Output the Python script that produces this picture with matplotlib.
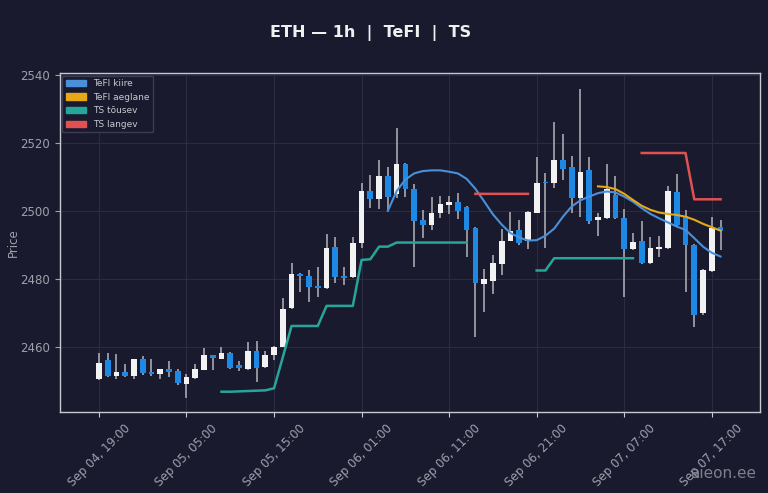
import matplotlib
matplotlib.use("Agg")
import matplotlib.pyplot as plt
import matplotlib.dates as mdates
from matplotlib.patches import Patch
import numpy as np
import pandas as pd

nan = np.nan

# hourly candles, Sep 04 19:00 .. Sep 07 18:00
start = "2024-09-04 19:00"
n_candles = 72

opens = [2450.6, 2456.2, 2451.5, 2452.7, 2451.5, 2456.6, 2452.7, 2452.0, 2453.5, 2452.9,
         2449.1, 2450.8, 2453.4, 2457.6, 2456.6, 2458.3, 2454.7, 2453.5, 2458.8, 2454.2,
         2457.8, 2460.1, 2471.4, 2481.5, 2480.9, 2477.8, 2477.5, 2489.5, 2480.8, 2480.5,
         2490.5, 2505.7, 2503.4, 2510.3, 2505.0, 2513.7, 2506.4, 2497.2, 2495.9, 2499.5,
         2501.8, 2502.5, 2501.1, 2495.1, 2478.5, 2479.5, 2484.4, 2491.3, 2494.4, 2491.3,
         2499.5, 2508.5, 2508.1, 2514.8, 2513.0, 2503.7, 2511.9, 2497.2, 2497.9, 2504.7,
         2497.9, 2488.7, 2491.3, 2484.6, 2488.7, 2489.0, 2505.4, 2498.5, 2490.0, 2469.9,
         2482.4, 2495.2]
highs = [2458.2, 2458.3, 2457.9, 2455.0, 2456.6, 2457.4, 2456.4, 2453.6, 2455.9, 2453.6,
         2452.0, 2455.0, 2459.6, 2457.7, 2460.1, 2458.5, 2455.9, 2461.6, 2461.9, 2458.8,
         2460.3, 2474.3, 2484.6, 2481.8, 2482.6, 2483.6, 2493.2, 2492.4, 2483.5, 2492.4,
         2508.1, 2510.4, 2515.0, 2513.0, 2524.3, 2514.0, 2508.0, 2500.3, 2504.0, 2504.4,
         2504.4, 2505.2, 2501.5, 2495.3, 2482.8, 2487.1, 2494.8, 2499.8, 2497.2, 2500.0,
         2515.8, 2511.1, 2526.1, 2522.6, 2516.0, 2535.9, 2515.8, 2499.3, 2513.7, 2510.1,
         2500.5, 2493.6, 2496.9, 2492.3, 2492.6, 2507.4, 2510.9, 2500.3, 2490.3, 2482.8,
         2498.3, 2497.2]
lows = [2450.3, 2451.2, 2450.6, 2451.2, 2450.6, 2451.7, 2451.6, 2450.6, 2451.2, 2449.0,
        2445.2, 2450.6, 2453.2, 2453.4, 2456.4, 2453.6, 2453.0, 2453.3, 2449.8, 2454.0,
        2456.2, 2459.9, 2471.2, 2476.3, 2473.3, 2474.8, 2477.0, 2478.7, 2478.2, 2480.3,
        2489.2, 2500.8, 2500.5, 2500.3, 2503.7, 2504.0, 2483.4, 2492.0, 2494.4, 2497.9,
        2499.0, 2497.6, 2486.6, 2463.0, 2470.2, 2475.6, 2481.2, 2491.1, 2490.0, 2488.8,
        2499.3, 2489.0, 2506.7, 2509.1, 2499.3, 2498.3, 2496.2, 2492.5, 2497.7, 2497.5,
        2474.8, 2488.5, 2484.3, 2484.3, 2486.4, 2488.8, 2495.7, 2476.3, 2466.0, 2469.5,
        2482.2, 2488.5]
closes = [2455.3, 2451.5, 2452.7, 2451.5, 2456.4, 2452.3, 2452.1, 2453.5, 2452.8, 2449.4,
          2451.3, 2453.7, 2457.6, 2456.9, 2458.3, 2453.9, 2454.0, 2458.8, 2454.0, 2457.8,
          2460.1, 2471.1, 2481.5, 2480.9, 2477.7, 2477.3, 2489.2, 2480.7, 2480.3, 2490.7,
          2505.7, 2503.4, 2510.3, 2504.2, 2513.7, 2506.4, 2496.9, 2495.9, 2499.5, 2502.0,
          2502.5, 2500.1, 2494.4, 2478.7, 2479.9, 2484.6, 2491.3, 2494.1, 2490.7, 2499.8,
          2508.3, 2508.1, 2514.8, 2512.3, 2503.7, 2511.3, 2496.9, 2498.2, 2506.4, 2497.9,
          2488.7, 2491.0, 2484.6, 2489.0, 2489.3, 2505.7, 2495.9, 2490.0, 2469.4, 2482.6,
          2494.9, 2494.2]

tefi_fast = [nan] * 33 + [
    2500.0, 2505.8, 2509.2, 2511.0, 2511.7, 2511.9, 2511.9, 2511.5, 2511.0, 2509.4,
    2506.5, 2502.8, 2499.0, 2496.0, 2493.5, 2492.2, 2491.3, 2491.4, 2492.7, 2494.8,
    2498.3, 2501.3, 2503.1, 2504.2, 2505.2, 2505.7, 2505.4, 2504.2, 2502.7, 2500.8,
    2499.1, 2497.8, 2496.6, 2495.4, 2494.4, 2492.0, 2489.5, 2487.7, 2486.6]
tefi_slow = [nan] * 57 + [
    2507.2, 2507.0, 2506.4, 2505.0, 2503.2, 2501.5, 2500.3, 2499.5, 2499.1, 2498.8,
    2498.3, 2497.4, 2496.2, 2495.2, 2494.2]
ts_up = [nan] * 14 + [
    2446.9, 2446.9, 2447.0, 2447.1, 2447.2, 2447.3, 2447.9, 2457.0,
    2466.2, 2466.2, 2466.2, 2466.2, 2472.1, 2472.1, 2472.1, 2472.1,
    2485.6, 2485.8, 2489.5, 2489.5,
    2490.7, 2490.7, 2490.7, 2490.7, 2490.7, 2490.7, 2490.7, 2490.7, 2490.7] + [nan] * 7 + [
    2482.5, 2482.5] + [2486.1] * 10 + [nan] * 10
ts_down = [nan] * 43 + [2505.0] * 7 + [nan] * 12 + [2517.0] * 6 + [2503.4] * 4

BG = "#1a1a2e"
UP = "#f2f2f2"
DOWN = "#1e88e5"
WICK = "#b4b4bc"
C_FAST = "#4a90d9"
C_SLOW = "#e6a817"
C_TSUP = "#26a69a"
C_TSDN = "#e05252"
TXT = "#a0a0ac"

times = pd.date_range(start, periods=n_candles, freq="h")
x = mdates.date2num(times.to_pydatetime())
o = np.array(opens); h = np.array(highs); l = np.array(lows); c = np.array(closes)
up = c >= o

fig = plt.figure(figsize=(7.68, 4.93), dpi=100, facecolor=BG)
ax = fig.add_axes([0.0775, 0.164, 0.912, 0.688], facecolor=BG)

hour = 1 / 24
ax.vlines(x, l, h, color=WICK, linewidth=1.1, zorder=1)
body_lo = np.minimum(o, c)
body_h = np.maximum(np.abs(c - o), 0.25)
ax.bar(x, body_h, bottom=body_lo, width=0.65 * hour,
       color=np.where(up, UP, DOWN), linewidth=0, zorder=2)

ax.plot(x, tefi_fast, color=C_FAST, linewidth=1.5, zorder=3)
ax.plot(x, tefi_slow, color=C_SLOW, linewidth=1.5, zorder=3)
ax.plot(x, ts_up, color=C_TSUP, linewidth=1.8, zorder=3)
ax.plot(x, ts_down, color=C_TSDN, linewidth=1.8, zorder=3)

ax.set_xlim(x[0] - 4.5 * hour, x[0] + 75.5 * hour)
ax.set_ylim(2440.9, 2540.5)
ax.set_yticks([2460, 2480, 2500, 2520, 2540])
ax.set_xticks(x[::10])
ax.xaxis.set_major_formatter(mdates.DateFormatter("%b %d, %H:%M"))
plt.setp(ax.get_xticklabels(), rotation=45, ha="center")
ax.tick_params(colors=TXT, labelsize=8.5, length=3.5)
ax.tick_params(axis="x", colors="#c8c8d0", labelcolor=TXT)
ax.set_ylabel("Price", color=TXT, fontsize=8.5)
ax.yaxis.set_label_coords(-0.056, 0.5)
ax.grid(True, color="#2c2c44", linewidth=0.7)
ax.set_axisbelow(True)
for s in ax.spines.values():
    s.set_color("#c8c8d0")
    s.set_linewidth(1.0)

handles = [Patch(color=C_FAST, label="TeFI kiire"),
           Patch(color=C_SLOW, label="TeFI aeglane"),
           Patch(color=C_TSUP, label="TS tõusev"),
           Patch(color=C_TSDN, label="TS langev")]
leg = ax.legend(handles=handles, loc="upper left", fontsize=6.5, facecolor=BG,
                edgecolor="#3c3c54", framealpha=1.0, labelcolor="#c8c8d0",
                handlelength=2.2, borderaxespad=0.3)

fig.text(0.483, 0.933, "ETH — 1h  |  TeFI  |  TS", color="#f0f0f0",
         fontsize=11.5, fontweight="bold", ha="center", va="center")
fig.text(0.985, 0.025, "aieon.ee", color="#8a8a96", fontsize=11,
         ha="right", va="bottom", alpha=0.9)

fig.savefig("out.png", dpi=100, facecolor=BG)
